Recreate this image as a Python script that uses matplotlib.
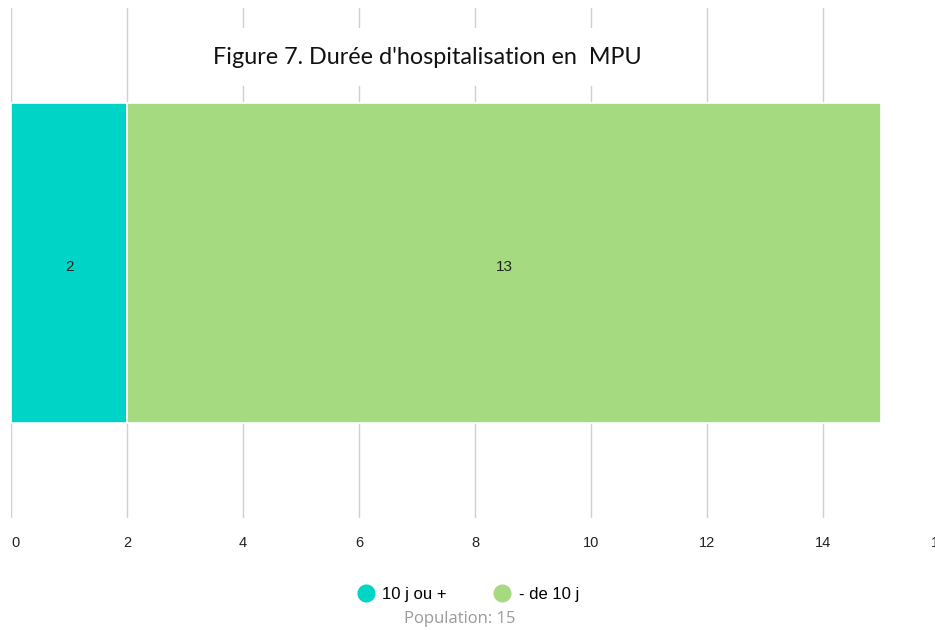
import matplotlib
matplotlib.use("Agg")
import matplotlib.pyplot as plt
from matplotlib.lines import Line2D

categories = ["MPU"]
series_names = ["10 j ou +", "- de 10 j"]
series_values = [[2], [13]]
colors = ["#00D4C6", "#A6DA81"]
xticks = [0, 2, 4, 6, 8, 10, 12, 14, 16]
title = "Figure 7. Durée d'hospitalisation en  MPU"
population = 15

W, H = 935, 630
fig = plt.figure(figsize=(W / 100, H / 100), dpi=100)
ax = fig.add_axes([11 / W, (H - 518) / H, 928 / W, 510 / H])

left = [0] * len(categories)
for name, vals, c in zip(series_names, series_values, colors):
    bars = ax.barh(categories, vals, left=left, height=0.627, color=c,
                   edgecolor="white", linewidth=1.2, zorder=3)
    for b, v in zip(bars, vals):
        ax.annotate(str(v), (b.get_x() + b.get_width() / 2, b.get_y() + b.get_height() / 2),
                    xytext=(0, -4), textcoords="offset pixels",
                    ha="center", va="center", fontsize=11,
                    family="Liberation Sans", color="#222222", zorder=4)
    left = [l + v for l, v in zip(left, vals)]

ax.set_xlim(0, 16)
ax.set_ylim(-0.5, 0.5)
ax.set_xticks(xticks)
ax.set_xticklabels([str(t) for t in xticks], family="Liberation Sans", fontsize=10.5, color="#222222")
ax.get_xticklabels()[0].set_ha("left")
ax.tick_params(axis="x", length=0, pad=13)
ax.set_yticks([])
for s in ax.spines.values():
    s.set_visible(False)
ax.grid(axis="x", color="#d0d0d0", linewidth=1, zorder=0)

ax.text(213 / W, 1 - 57 / H, title, transform=fig.transFigure, ha="left", va="center",
        fontsize=16.8, family="Lato", color="#111111", zorder=5,
        bbox=dict(facecolor="white", edgecolor="none",
                  boxstyle="square,pad=0.8"))

handles = [Line2D([0], [0], marker="o", linestyle="none", markersize=12,
                  markerfacecolor=c, markeredgecolor=c) for c in colors]
leg = fig.legend(handles, series_names, loc="center", bbox_to_anchor=(468 / W, 1 - 594 / H),
                 ncol=2, frameon=False, prop={"family": "Liberation Sans", "size": 12},
                 handletextpad=0.5, columnspacing=2.8, handlelength=1.0)
fig.text(460 / W, 1 - 619 / H, f"Population: {population}", ha="center", va="center",
         fontsize=12, family="Open Sans", color="#9a9a9a")

fig.savefig("out.png", dpi=100)
